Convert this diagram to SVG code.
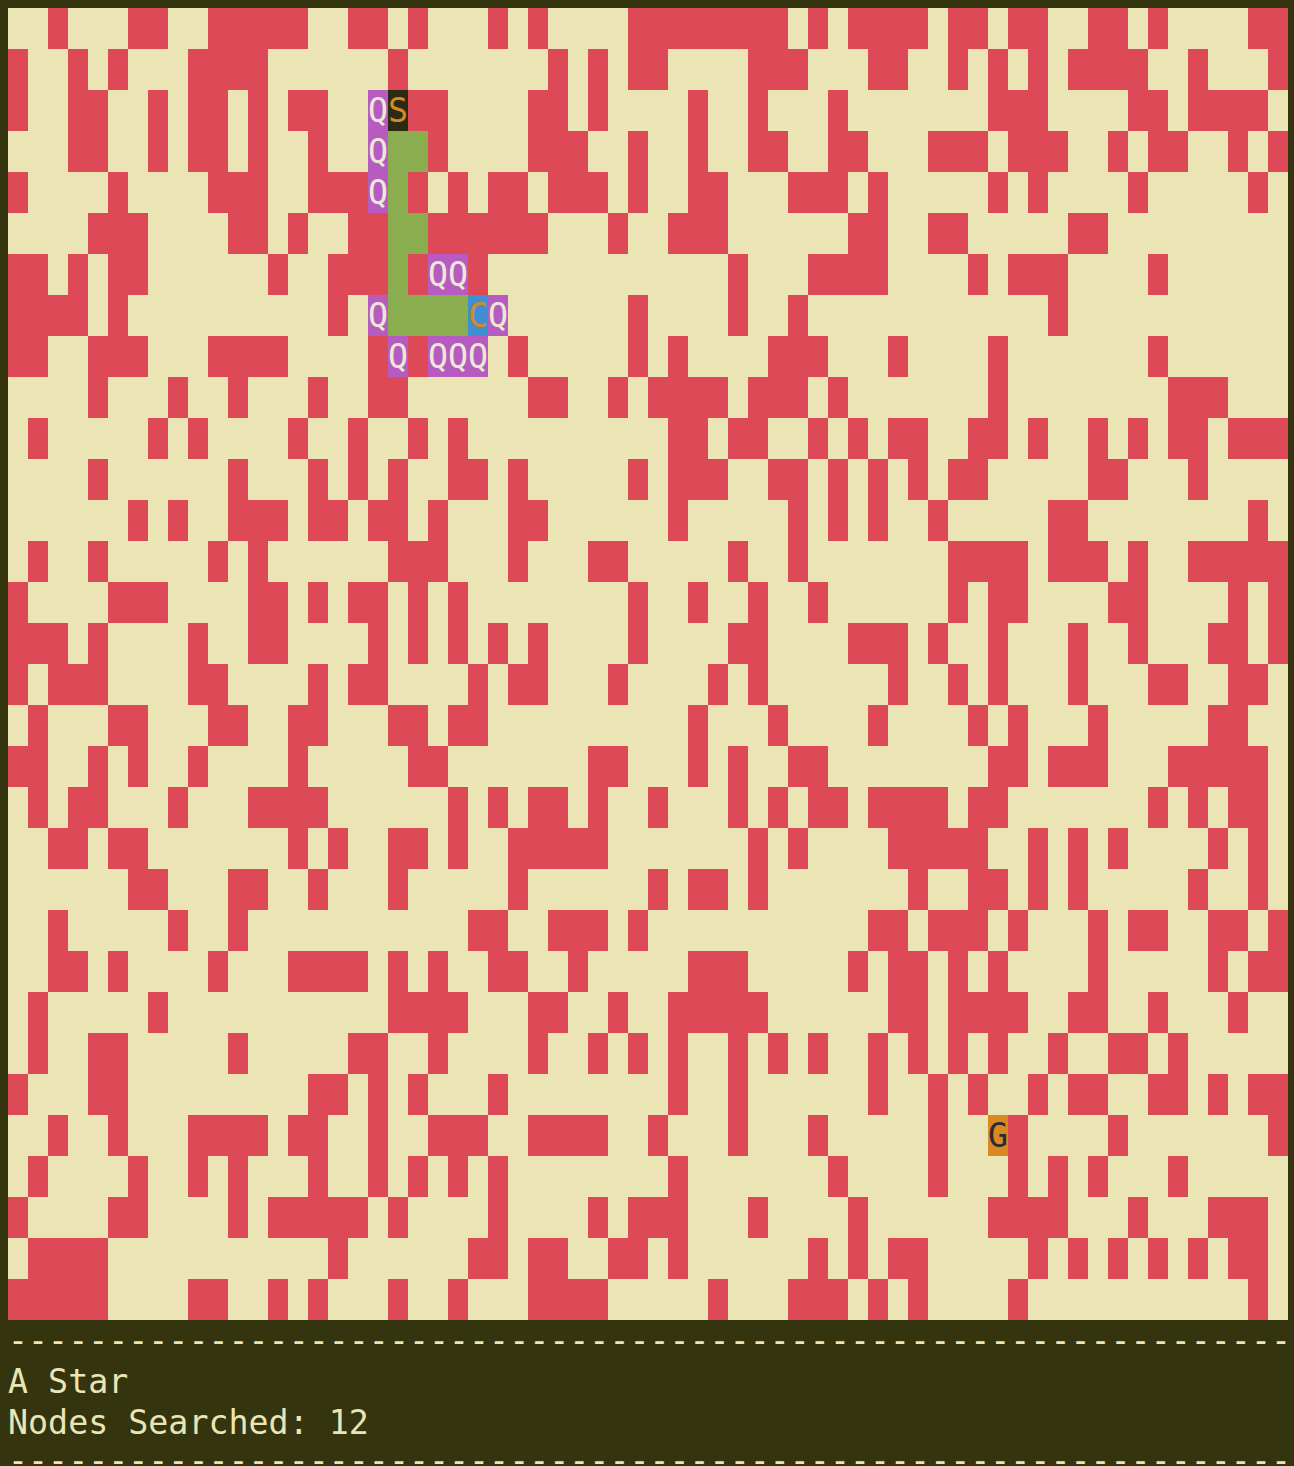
<svg xmlns="http://www.w3.org/2000/svg" width="1294" height="1466" viewBox="0 0 1294 1466">
<style>
.bg{fill:#34340f}
.floor{fill:#ebe5b6}
.wall{fill:#dd4956}
.q{fill:#b65bbf}
.trail{fill:#89ad4f}
.start{fill:#2b2b14}
.cur{fill:#3f8fd2}
.goal{fill:#d8891f}
.t{font-family:"DejaVu Sans Mono","Liberation Mono",monospace;font-size:33.3px}
.cell{text-anchor:middle}
.ql{fill:#ede8d6}
.ol{fill:#d8891f}
.dl{fill:#2a2a3a}
.info{fill:#ebe5b6}
</style>
<rect class="bg" x="0" y="0" width="1294" height="1466"/>
<rect class="floor" x="8" y="8" width="1280" height="1312"/>
<g id="walls" transform="translate(8 8) scale(20 41)">
<path class="wall" d="M2 0h1v1h-1zM6 0h2v1h-2zM10 0h5v1h-5zM17 0h2v1h-2zM20 0h1v1h-1zM24 0h1v1h-1zM26 0h1v1h-1zM31 0h8v1h-8zM40 0h1v1h-1zM42 0h4v1h-4zM47 0h2v1h-2zM50 0h2v1h-2zM54 0h2v1h-2zM57 0h1v1h-1zM62 0h2v1h-2z"/>
<path class="wall" d="M0 1h1v1h-1zM3 1h1v1h-1zM5 1h1v1h-1zM9 1h4v1h-4zM19 1h1v1h-1zM27 1h1v1h-1zM29 1h1v1h-1zM31 1h2v1h-2zM37 1h3v1h-3zM43 1h2v1h-2zM47 1h1v1h-1zM49 1h1v1h-1zM51 1h1v1h-1zM53 1h4v1h-4zM59 1h1v1h-1zM63 1h1v1h-1z"/>
<path class="wall" d="M0 2h1v1h-1zM3 2h2v1h-2zM7 2h1v1h-1zM9 2h2v1h-2zM12 2h1v1h-1zM14 2h2v1h-2zM20 2h2v1h-2zM26 2h2v1h-2zM29 2h1v1h-1zM34 2h1v1h-1zM37 2h1v1h-1zM41 2h1v1h-1zM49 2h3v1h-3zM56 2h2v1h-2zM59 2h4v1h-4z"/>
<path class="wall" d="M3 3h2v1h-2zM7 3h1v1h-1zM9 3h2v1h-2zM12 3h1v1h-1zM15 3h1v1h-1zM21 3h1v1h-1zM26 3h3v1h-3zM31 3h1v1h-1zM34 3h1v1h-1zM37 3h2v1h-2zM41 3h2v1h-2zM46 3h3v1h-3zM50 3h3v1h-3zM55 3h1v1h-1zM57 3h2v1h-2zM61 3h1v1h-1zM63 3h1v1h-1z"/>
<path class="wall" d="M0 4h1v1h-1zM5 4h1v1h-1zM10 4h3v1h-3zM15 4h3v1h-3zM20 4h1v1h-1zM22 4h1v1h-1zM24 4h2v1h-2zM27 4h3v1h-3zM31 4h1v1h-1zM34 4h2v1h-2zM39 4h3v1h-3zM43 4h1v1h-1zM49 4h1v1h-1zM51 4h1v1h-1zM56 4h1v1h-1zM62 4h1v1h-1z"/>
<path class="wall" d="M4 5h3v1h-3zM11 5h2v1h-2zM14 5h1v1h-1zM17 5h2v1h-2zM21 5h6v1h-6zM30 5h1v1h-1zM33 5h3v1h-3zM42 5h2v1h-2zM46 5h2v1h-2zM53 5h2v1h-2z"/>
<path class="wall" d="M0 6h2v1h-2zM3 6h1v1h-1zM5 6h2v1h-2zM13 6h1v1h-1zM16 6h3v1h-3zM20 6h1v1h-1zM23 6h1v1h-1zM36 6h1v1h-1zM40 6h4v1h-4zM48 6h1v1h-1zM50 6h3v1h-3zM57 6h1v1h-1z"/>
<path class="wall" d="M0 7h4v1h-4zM5 7h1v1h-1zM16 7h1v1h-1zM31 7h1v1h-1zM36 7h1v1h-1zM39 7h1v1h-1zM52 7h1v1h-1z"/>
<path class="wall" d="M0 8h2v1h-2zM4 8h3v1h-3zM10 8h4v1h-4zM18 8h1v1h-1zM20 8h1v1h-1zM25 8h1v1h-1zM31 8h1v1h-1zM33 8h1v1h-1zM38 8h3v1h-3zM44 8h1v1h-1zM49 8h1v1h-1zM57 8h1v1h-1z"/>
<path class="wall" d="M4 9h1v1h-1zM8 9h1v1h-1zM11 9h1v1h-1zM15 9h1v1h-1zM18 9h2v1h-2zM26 9h2v1h-2zM30 9h1v1h-1zM32 9h4v1h-4zM37 9h3v1h-3zM41 9h1v1h-1zM49 9h1v1h-1zM58 9h3v1h-3z"/>
<path class="wall" d="M1 10h1v1h-1zM7 10h1v1h-1zM9 10h1v1h-1zM14 10h1v1h-1zM17 10h1v1h-1zM20 10h1v1h-1zM22 10h1v1h-1zM33 10h2v1h-2zM36 10h2v1h-2zM40 10h1v1h-1zM42 10h1v1h-1zM44 10h2v1h-2zM48 10h2v1h-2zM51 10h1v1h-1zM54 10h1v1h-1zM56 10h1v1h-1zM58 10h2v1h-2zM61 10h3v1h-3z"/>
<path class="wall" d="M4 11h1v1h-1zM11 11h1v1h-1zM15 11h1v1h-1zM17 11h1v1h-1zM19 11h1v1h-1zM22 11h2v1h-2zM25 11h1v1h-1zM31 11h1v1h-1zM33 11h3v1h-3zM38 11h2v1h-2zM41 11h1v1h-1zM43 11h1v1h-1zM45 11h1v1h-1zM47 11h2v1h-2zM54 11h2v1h-2zM59 11h1v1h-1z"/>
<path class="wall" d="M6 12h1v1h-1zM8 12h1v1h-1zM11 12h3v1h-3zM15 12h2v1h-2zM18 12h2v1h-2zM21 12h1v1h-1zM25 12h2v1h-2zM33 12h1v1h-1zM39 12h1v1h-1zM41 12h1v1h-1zM43 12h1v1h-1zM46 12h1v1h-1zM52 12h2v1h-2zM62 12h1v1h-1z"/>
<path class="wall" d="M1 13h1v1h-1zM4 13h1v1h-1zM10 13h1v1h-1zM12 13h1v1h-1zM19 13h3v1h-3zM25 13h1v1h-1zM29 13h2v1h-2zM36 13h1v1h-1zM39 13h1v1h-1zM47 13h4v1h-4zM52 13h3v1h-3zM56 13h1v1h-1zM59 13h5v1h-5z"/>
<path class="wall" d="M0 14h1v1h-1zM5 14h3v1h-3zM12 14h2v1h-2zM15 14h1v1h-1zM17 14h2v1h-2zM20 14h1v1h-1zM22 14h1v1h-1zM31 14h1v1h-1zM34 14h1v1h-1zM37 14h1v1h-1zM40 14h1v1h-1zM47 14h1v1h-1zM49 14h2v1h-2zM55 14h2v1h-2zM61 14h1v1h-1zM63 14h1v1h-1z"/>
<path class="wall" d="M0 15h3v1h-3zM4 15h1v1h-1zM9 15h1v1h-1zM12 15h2v1h-2zM18 15h1v1h-1zM20 15h1v1h-1zM22 15h1v1h-1zM24 15h1v1h-1zM26 15h1v1h-1zM31 15h1v1h-1zM36 15h2v1h-2zM42 15h3v1h-3zM46 15h1v1h-1zM49 15h1v1h-1zM53 15h1v1h-1zM56 15h1v1h-1zM60 15h2v1h-2zM63 15h1v1h-1z"/>
<path class="wall" d="M0 16h1v1h-1zM2 16h3v1h-3zM9 16h2v1h-2zM15 16h1v1h-1zM17 16h2v1h-2zM23 16h1v1h-1zM25 16h2v1h-2zM30 16h1v1h-1zM35 16h1v1h-1zM37 16h1v1h-1zM44 16h1v1h-1zM47 16h1v1h-1zM49 16h1v1h-1zM53 16h1v1h-1zM57 16h2v1h-2zM61 16h2v1h-2z"/>
<path class="wall" d="M1 17h1v1h-1zM5 17h2v1h-2zM10 17h2v1h-2zM14 17h2v1h-2zM19 17h2v1h-2zM22 17h2v1h-2zM34 17h1v1h-1zM38 17h1v1h-1zM43 17h1v1h-1zM48 17h1v1h-1zM50 17h1v1h-1zM54 17h1v1h-1zM60 17h2v1h-2z"/>
<path class="wall" d="M0 18h2v1h-2zM4 18h1v1h-1zM6 18h1v1h-1zM9 18h1v1h-1zM14 18h1v1h-1zM20 18h2v1h-2zM29 18h2v1h-2zM34 18h1v1h-1zM36 18h1v1h-1zM39 18h2v1h-2zM49 18h2v1h-2zM52 18h3v1h-3zM58 18h5v1h-5z"/>
<path class="wall" d="M1 19h1v1h-1zM3 19h2v1h-2zM8 19h1v1h-1zM12 19h4v1h-4zM22 19h1v1h-1zM24 19h1v1h-1zM26 19h2v1h-2zM29 19h1v1h-1zM32 19h1v1h-1zM36 19h1v1h-1zM38 19h1v1h-1zM40 19h2v1h-2zM43 19h4v1h-4zM48 19h2v1h-2zM57 19h1v1h-1zM59 19h1v1h-1zM61 19h2v1h-2z"/>
<path class="wall" d="M2 20h2v1h-2zM5 20h2v1h-2zM14 20h1v1h-1zM16 20h1v1h-1zM19 20h2v1h-2zM22 20h1v1h-1zM25 20h5v1h-5zM37 20h1v1h-1zM39 20h1v1h-1zM44 20h5v1h-5zM51 20h1v1h-1zM53 20h1v1h-1zM55 20h1v1h-1zM60 20h1v1h-1zM62 20h1v1h-1z"/>
<path class="wall" d="M6 21h2v1h-2zM11 21h2v1h-2zM15 21h1v1h-1zM19 21h1v1h-1zM25 21h1v1h-1zM32 21h1v1h-1zM34 21h2v1h-2zM37 21h1v1h-1zM45 21h1v1h-1zM48 21h2v1h-2zM51 21h1v1h-1zM53 21h1v1h-1zM59 21h1v1h-1zM62 21h1v1h-1z"/>
<path class="wall" d="M2 22h1v1h-1zM8 22h1v1h-1zM11 22h1v1h-1zM23 22h2v1h-2zM27 22h3v1h-3zM31 22h1v1h-1zM43 22h2v1h-2zM46 22h3v1h-3zM50 22h1v1h-1zM54 22h1v1h-1zM56 22h2v1h-2zM60 22h2v1h-2zM63 22h1v1h-1z"/>
<path class="wall" d="M2 23h2v1h-2zM5 23h1v1h-1zM10 23h1v1h-1zM14 23h4v1h-4zM19 23h1v1h-1zM21 23h1v1h-1zM24 23h2v1h-2zM28 23h1v1h-1zM34 23h3v1h-3zM42 23h1v1h-1zM44 23h2v1h-2zM47 23h1v1h-1zM49 23h1v1h-1zM54 23h1v1h-1zM60 23h1v1h-1zM62 23h2v1h-2z"/>
<path class="wall" d="M1 24h1v1h-1zM7 24h1v1h-1zM19 24h4v1h-4zM26 24h2v1h-2zM30 24h1v1h-1zM33 24h5v1h-5zM44 24h2v1h-2zM47 24h4v1h-4zM53 24h2v1h-2zM57 24h1v1h-1zM61 24h1v1h-1z"/>
<path class="wall" d="M1 25h1v1h-1zM4 25h2v1h-2zM11 25h1v1h-1zM17 25h2v1h-2zM21 25h1v1h-1zM26 25h1v1h-1zM29 25h1v1h-1zM31 25h1v1h-1zM33 25h1v1h-1zM36 25h1v1h-1zM38 25h1v1h-1zM40 25h1v1h-1zM43 25h1v1h-1zM45 25h1v1h-1zM47 25h1v1h-1zM49 25h1v1h-1zM52 25h1v1h-1zM55 25h2v1h-2zM58 25h1v1h-1z"/>
<path class="wall" d="M0 26h1v1h-1zM4 26h2v1h-2zM15 26h2v1h-2zM18 26h1v1h-1zM20 26h1v1h-1zM24 26h1v1h-1zM33 26h1v1h-1zM36 26h1v1h-1zM43 26h1v1h-1zM46 26h1v1h-1zM48 26h1v1h-1zM51 26h1v1h-1zM53 26h2v1h-2zM57 26h2v1h-2zM60 26h1v1h-1zM62 26h2v1h-2z"/>
<path class="wall" d="M2 27h1v1h-1zM5 27h1v1h-1zM9 27h4v1h-4zM14 27h2v1h-2zM18 27h1v1h-1zM21 27h3v1h-3zM26 27h4v1h-4zM32 27h1v1h-1zM36 27h1v1h-1zM40 27h1v1h-1zM46 27h1v1h-1zM50 27h1v1h-1zM55 27h1v1h-1zM63 27h1v1h-1z"/>
<path class="wall" d="M1 28h1v1h-1zM6 28h1v1h-1zM9 28h1v1h-1zM11 28h1v1h-1zM15 28h1v1h-1zM18 28h1v1h-1zM20 28h1v1h-1zM22 28h1v1h-1zM24 28h1v1h-1zM33 28h1v1h-1zM41 28h1v1h-1zM46 28h1v1h-1zM50 28h1v1h-1zM52 28h1v1h-1zM54 28h1v1h-1zM58 28h1v1h-1z"/>
<path class="wall" d="M0 29h1v1h-1zM5 29h2v1h-2zM11 29h1v1h-1zM13 29h5v1h-5zM19 29h1v1h-1zM24 29h1v1h-1zM29 29h1v1h-1zM31 29h3v1h-3zM37 29h1v1h-1zM42 29h1v1h-1zM49 29h4v1h-4zM56 29h1v1h-1zM60 29h3v1h-3z"/>
<path class="wall" d="M1 30h4v1h-4zM16 30h1v1h-1zM23 30h2v1h-2zM26 30h2v1h-2zM30 30h2v1h-2zM33 30h1v1h-1zM40 30h1v1h-1zM42 30h1v1h-1zM44 30h2v1h-2zM51 30h1v1h-1zM53 30h1v1h-1zM55 30h1v1h-1zM57 30h1v1h-1zM59 30h1v1h-1zM61 30h2v1h-2z"/>
<path class="wall" d="M0 31h5v1h-5zM9 31h2v1h-2zM13 31h1v1h-1zM15 31h1v1h-1zM19 31h1v1h-1zM22 31h1v1h-1zM26 31h4v1h-4zM35 31h1v1h-1zM39 31h3v1h-3zM43 31h1v1h-1zM45 31h1v1h-1zM50 31h1v1h-1zM62 31h1v1h-1z"/>
</g>
<g id="trail">
<rect class="trail" x="388" y="131" width="40" height="41"/>
<rect class="trail" x="388" y="172" width="20" height="41"/>
<rect class="trail" x="388" y="213" width="40" height="41"/>
<rect class="trail" x="388" y="254" width="20" height="41"/>
<rect class="trail" x="388" y="295" width="80" height="41"/>
</g>
<g id="queue">
<rect class="q" x="368" y="90" width="20" height="41"/><text class="t cell ql" x="378" y="122">Q</text>
<rect class="q" x="368" y="131" width="20" height="41"/><text class="t cell ql" x="378" y="163">Q</text>
<rect class="q" x="368" y="172" width="20" height="41"/><text class="t cell ql" x="378" y="204">Q</text>
<rect class="q" x="428" y="254" width="40" height="41"/><text class="t cell ql" x="438" y="286">Q</text><text class="t cell ql" x="458" y="286">Q</text>
<rect class="q" x="368" y="295" width="20" height="41"/><text class="t cell ql" x="378" y="327">Q</text>
<rect class="q" x="488" y="295" width="20" height="41"/><text class="t cell ql" x="498" y="327">Q</text>
<rect class="q" x="388" y="336" width="20" height="41"/><text class="t cell ql" x="398" y="368">Q</text>
<rect class="q" x="428" y="336" width="60" height="41"/><text class="t cell ql" x="438" y="368">Q</text><text class="t cell ql" x="458" y="368">Q</text><text class="t cell ql" x="478" y="368">Q</text>
</g>
<g id="start">
<rect class="start" x="388" y="90" width="20" height="41"/><text class="t cell ol" x="398" y="122">S</text>
</g>
<g id="current">
<rect class="cur" x="468" y="295" width="20" height="41"/><text class="t cell ol" x="478" y="327">C</text>
</g>
<g id="goal">
<rect class="goal" x="988" y="1115" width="20" height="41"/><text class="t cell dl" x="998" y="1147">G</text>
</g>
<g id="status">
<text class="t info" x="8" y="1352">----------------------------------------------------------------</text>
<text class="t info" x="8" y="1393">A Star</text>
<text class="t info" x="8" y="1434">Nodes Searched: 12</text>
<text class="t info" x="8" y="1472">----------------------------------------------------------------</text>
</g>
</svg>
